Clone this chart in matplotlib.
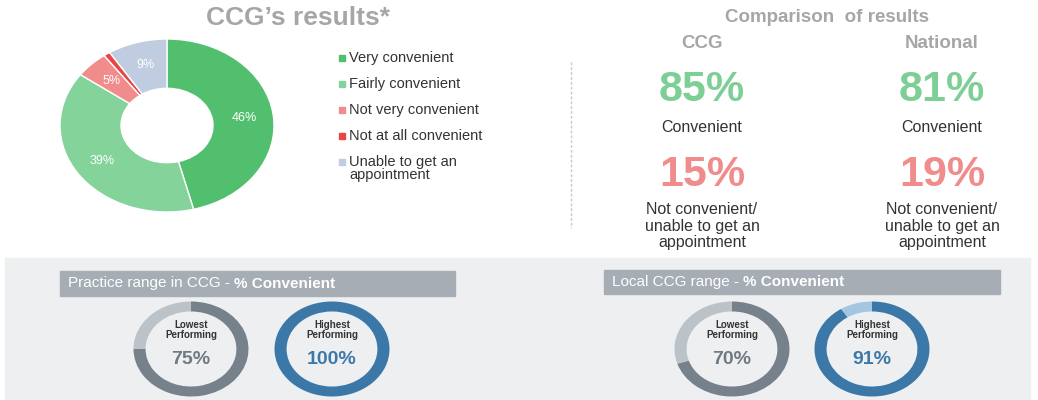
import numpy as np
import matplotlib
matplotlib.use('Agg')
import matplotlib.pyplot as plt
from matplotlib.patches import Rectangle

plt.rcParams['font.family'] = ['Liberation Sans', 'DejaVu Sans']

# data
answers = ['Very convenient', 'Fairly convenient', 'Not very convenient',
           'Not at all convenient', 'Unable to get an\nappointment']
shares = [46, 39, 5, 1, 9]
answer_colors = ['#52BF6F', '#84D39A', '#F08C8C', '#E84545', '#C0CCE0']

groups = ['CCG', 'National']
convenient = [85, 81]
not_convenient = [15, 19]

practice_low, practice_high = 75, 100
local_low, local_high = 70, 91

W, H = 1038, 400
fig = plt.figure(figsize=(W / 100, H / 100), dpi=100)

# full-figure axes in pixel coords for the background bits
bg = fig.add_axes([0, 0, 1, 1])
bg.set_xlim(0, W)
bg.set_ylim(H, 0)
bg.axis('off')

def px_axes(x0, y0, w, h):
    return fig.add_axes([x0 / W, 1 - (y0 + h) / H, w / W, h / H])

gray_title = '#A6A6A6'
dark = '#333333'

# top left: donut
bg.text(298, 18, 'CCG\u2019s results*', ha='center', va='center',
        fontsize=19, fontweight='bold', color=gray_title)

ax = px_axes(60, 39, 214, 173)
wedges, _, autotexts = ax.pie(shares, colors=answer_colors, startangle=90, counterclock=False,
                              autopct=lambda p: f'{p:.0f}%' if p >= 2 else '',
                              pctdistance=0.73, radius=1,
                              wedgeprops=dict(width=0.57, edgecolor='white', linewidth=1))
for t in autotexts:
    t.set_color('white')
    t.set_fontsize(9)
ax.set_aspect('auto')
ax.set_xlim(-1, 1)
ax.set_ylim(-1, 1)

# legend
for i, (lab, col) in enumerate(zip(answers, answer_colors)):
    y = 58 + i * 26
    bg.add_patch(Rectangle((339, y - 3), 6, 6, color=col))
    if '\n' in lab:
        bg.text(349, y - 7, lab, ha='left', va='top', fontsize=10.5, color=dark, linespacing=0.95)
    else:
        bg.text(349, y, lab, ha='left', va='center', fontsize=10.5, color=dark)

# dashed separator
bg.plot([571, 571], [62, 228], color='#C8C8C8', lw=1, ls=(0, (2, 1.5)))

# top right: comparison
bg.text(827, 17, 'Comparison  of results', ha='center', va='center',
        fontsize=13.5, fontweight='bold', color=gray_title)
for gx, g, c, n in zip([702, 942], groups, convenient, not_convenient):
    bg.text(gx, 43, g, ha='center', va='center', fontsize=13.5, fontweight='bold', color=gray_title)
    bg.text(gx, 90, f'{c}%', ha='center', va='center', fontsize=31, fontweight='bold', color='#7DCF95')
    bg.text(gx, 128, 'Convenient', ha='center', va='center', fontsize=11.5, color=dark)
    bg.text(gx, 175, f'{n}%', ha='center', va='center', fontsize=31, fontweight='bold', color='#F08C8C')
    bg.text(gx, 226, 'Not convenient/\nunable to get an\nappointment', ha='center', va='center',
            fontsize=11.5, color=dark, linespacing=1.12)

# bottom panel
bg.add_patch(Rectangle((5, 258), 1025, 141, color='#EEEFF1', zorder=0))

def header(x0, x1, y0, y1, lead):
    bg.add_patch(Rectangle((x0, y0), x1 - x0, y1 - y0, color='#A7ADB5', zorder=1))
    t1 = bg.text(x0 + 8, (y0 + y1) / 2, lead, ha='left', va='center', fontsize=11,
                 color='white', zorder=2)
    bg.annotate('% Convenient', xy=(1, 0), xycoords=t1, xytext=(3, 0),
                textcoords='offset points', ha='left', va='bottom', fontsize=11,
                fontweight='bold', color='white', zorder=2)

header(60, 455, 271, 296, 'Practice range in CCG -')
header(604, 1000, 270, 294, 'Local CCG range -')

def ring(cx, cy, value, col, rest, title, val_col):
    a = px_axes(cx - 57.5, cy - 47.5, 115, 95)
    a.pie([value, 100 - value], colors=[col, rest], startangle=90, counterclock=False,
          wedgeprops=dict(width=0.21, linewidth=0))
    a.set_aspect('auto')
    a.set_xlim(-1, 1)
    a.set_ylim(-1, 1)
    a.text(0, 0.4, title, ha='center', va='center', fontsize=7, fontweight='bold',
           color=dark, linespacing=0.95)
    a.text(0, -0.23, f'{value}%', ha='center', va='center', fontsize=14,
           fontweight='bold', color=val_col)

grey_ring, grey_rest, grey_txt = '#76818B', '#BCC3C8', '#707A84'
blue_ring, blue_rest, blue_txt = '#3B78A8', '#A5C6E0', '#3D79A8'

ring(191, 349, practice_low, grey_ring, grey_rest, 'Lowest\nPerforming', grey_txt)
ring(332, 349, practice_high, blue_ring, blue_rest, 'Highest\nPerforming', blue_txt)
ring(732, 349, local_low, grey_ring, grey_rest, 'Lowest\nPerforming', grey_txt)
ring(872, 349, local_high, blue_ring, blue_rest, 'Highest\nPerforming', blue_txt)

fig.savefig('out.png', dpi=100)
